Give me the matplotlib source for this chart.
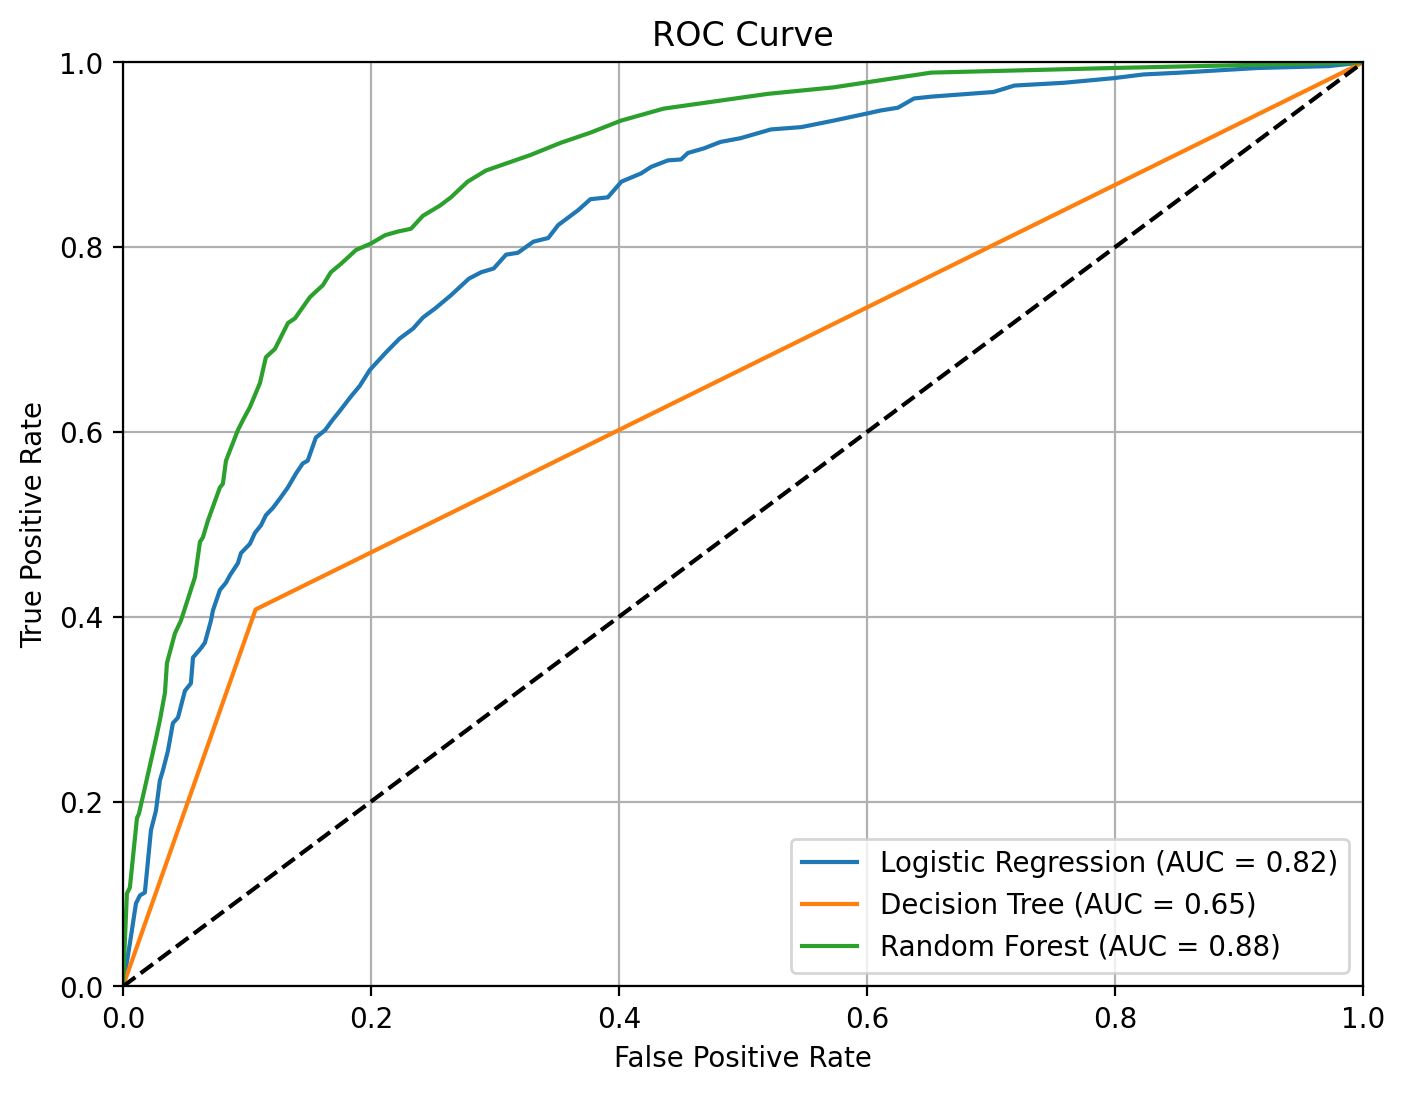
import matplotlib
matplotlib.use("Agg")
import matplotlib.pyplot as plt

# Logistic Regression ROC points
lr_fpr = [0.0, 0.0056, 0.0105, 0.0137, 0.0177, 0.0202, 0.0226, 0.0266, 0.0298, 0.0323,
          0.0363, 0.0403, 0.0444, 0.05, 0.0548, 0.0565, 0.0629, 0.0661, 0.071, 0.0726,
          0.0782, 0.0831, 0.0863, 0.0927, 0.0952, 0.1024, 0.1065, 0.1113, 0.1153, 0.121,
          0.1266, 0.133, 0.1395, 0.145, 0.149, 0.1556, 0.163, 0.169, 0.175, 0.183,
          0.191, 0.199, 0.212, 0.223, 0.234, 0.242, 0.252, 0.2645, 0.279, 0.289,
          0.299, 0.309, 0.3185, 0.331, 0.343, 0.351, 0.367, 0.377, 0.391, 0.402,
          0.418, 0.426, 0.4395, 0.45, 0.4556, 0.4685, 0.482, 0.498, 0.5226, 0.547,
          0.573, 0.601, 0.611, 0.625, 0.638, 0.652, 0.702, 0.719, 0.759, 0.799,
          0.823, 0.853, 0.915, 0.972, 1.0]
lr_tpr = [0.0, 0.0465, 0.0898, 0.0985, 0.1017, 0.136, 0.169, 0.190, 0.223, 0.234,
          0.255, 0.285, 0.291, 0.320, 0.328, 0.356, 0.366, 0.372, 0.396, 0.407,
          0.429, 0.437, 0.445, 0.458, 0.469, 0.479, 0.491, 0.499, 0.510, 0.518,
          0.528, 0.540, 0.555, 0.566, 0.569, 0.594, 0.602, 0.613, 0.623, 0.637,
          0.650, 0.667, 0.686, 0.701, 0.712, 0.724, 0.734, 0.748, 0.766, 0.773,
          0.777, 0.792, 0.794, 0.806, 0.810, 0.824, 0.840, 0.852, 0.854, 0.871,
          0.880, 0.887, 0.894, 0.895, 0.902, 0.907, 0.914, 0.918, 0.9275, 0.930,
          0.937, 0.945, 0.948, 0.951, 0.961, 0.963, 0.968, 0.975, 0.978, 0.983,
          0.987, 0.989, 0.994, 0.996, 1.0]

# Decision Tree ROC points
dt_fpr = [0.0, 0.107, 1.0]
dt_tpr = [0.0, 0.408, 1.0]

# Random Forest ROC points
rf_fpr = [0.0, 0.0032, 0.0056, 0.0113, 0.0129, 0.0177, 0.0266, 0.0298, 0.0339, 0.0355,
          0.0419, 0.0468, 0.0581, 0.0621, 0.0645, 0.0685, 0.0782, 0.0806, 0.0831, 0.0927,
          0.0968, 0.1024, 0.1105, 0.1153, 0.1226, 0.1331, 0.1387, 0.1508, 0.1613, 0.1677,
          0.1758, 0.1831, 0.1879, 0.2, 0.2113, 0.2218, 0.2323, 0.2419, 0.2556, 0.2645,
          0.278, 0.2927, 0.329, 0.353, 0.377, 0.4016, 0.436, 0.520, 0.573, 0.627,
          0.652, 0.799, 1.0]
rf_tpr = [0.0, 0.1006, 0.107, 0.182, 0.187, 0.215, 0.268, 0.288, 0.318, 0.350,
          0.382, 0.396, 0.443, 0.481, 0.486, 0.504, 0.540, 0.544, 0.569, 0.602,
          0.613, 0.627, 0.653, 0.681, 0.690, 0.718, 0.723, 0.746, 0.759, 0.773,
          0.782, 0.791, 0.797, 0.804, 0.813, 0.817, 0.820, 0.834, 0.845, 0.854,
          0.871, 0.883, 0.900, 0.913, 0.924, 0.937, 0.950, 0.966, 0.973, 0.984,
          0.989, 0.994, 1.0]

labels = ["Logistic Regression (AUC = 0.82)",
          "Decision Tree (AUC = 0.65)",
          "Random Forest (AUC = 0.88)"]

fig, ax = plt.subplots(figsize=(8, 6))
ax.plot(lr_fpr, lr_tpr, label=labels[0])
ax.plot(dt_fpr, dt_tpr, label=labels[1])
ax.plot(rf_fpr, rf_tpr, label=labels[2])
ax.plot([0, 1], [0, 1], 'k--')
ax.set_xlim(0, 1)
ax.set_ylim(0, 1)
ax.set_xlabel("False Positive Rate")
ax.set_ylabel("True Positive Rate")
ax.set_title("ROC Curve")
ax.legend(loc="lower right")
ax.grid(True)
fig.savefig("out.png", dpi=200, bbox_inches="tight")
